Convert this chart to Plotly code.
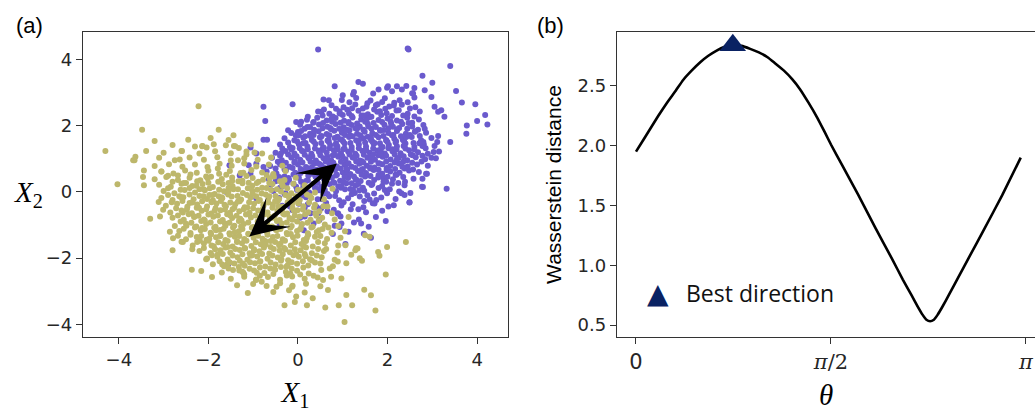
import math
import plotly.graph_objects as go

# ---------------- Panel (a): two point clouds ----------------
purple_points = [
    # outliers / edge points
    (0.45, 4.30), (2.45, 4.33), (2.47, 4.30), (3.40, 3.80), (2.78, 3.51), (3.00, 3.30), (3.53, 3.05),
    (3.66, 2.70), (3.96, 2.65), (4.18, 2.32), (4.23, 2.04), (3.77, 2.01), (3.76, 1.76), (4.00, 2.14),
    (3.40, 1.51), (3.32, 0.10), (3.03, 1.21), (2.88, 0.55), (2.79, 0.15), (2.51, -0.03), (2.49, -0.31),
    (2.14, -0.40), (1.96, -0.88), (1.63, -1.38), (1.47, -1.26), (1.13, -1.20), (0.93, -1.06), (0.13, -1.16),
    (-1.55, -2.17), (-0.77, 2.57), (-0.12, 2.65), (-0.73, 2.14), (-0.77, 1.58), (-0.69, 1.58), (-1.06, 1.34),
    (-0.93, 1.16), (-1.10, 0.81), (-1.30, 0.50), (-1.53, 0.81), (-1.06, 0.55), (1.35, 3.32), (0.82, 3.19),
    (0.57, 2.79), (1.80, 3.09), (1.99, 3.15), (2.21, 3.19), (2.32, 3.09), (1.45, 3.27), (2.01, 3.19),
    (2.42, 3.20), (2.60, 3.14), (2.57, 2.97), (2.83, 3.07), (2.98, 2.87), (3.05, 2.57), (3.20, 2.47),
    (3.27, 2.27), (3.13, 2.42), (1.00, 2.92), (1.23, 2.94), (0.69, 2.77), (0.52, 2.42), (0.22, 2.27),
    (0.07, 2.12), (0.00, 1.81), (3.11, 1.51), (3.13, 1.69), (2.78, 1.39), (2.98, 1.03), (2.86, 0.55),
    (2.78, 0.40), (2.77, 0.16), (2.49, -0.32), (1.41, -0.95), (0.78, -1.27), (1.06, -1.57), (2.31, -0.04),
    (2.38, -0.09), (1.67, -0.34), (1.75, -0.24), (-0.22, 1.86), (-0.04, 2.11), (-0.93, 0.85), (-0.77, 0.75),
    (-1.60, 0.00), (-0.93, -0.19), (-0.41, -0.95), (-0.18, -0.44), (-0.04, 0.16), (0.15, -0.74), (0.45, -0.64),
    (0.89, -0.64), (0.97, -0.95),
    # dense body
    (0.35, -0.95), (0.82, -1.02), (1.25, -0.92), (1.58, -1.05),
    (0.05, -0.78), (0.48, -0.85), (0.95, -0.74), (1.36, -0.83), (1.74, -0.76),
    (-0.12, -0.55), (0.28, -0.64), (0.66, -0.58), (0.90, -0.66), (1.18, -0.52), (1.52, -0.61), (1.88, -0.57),
    (-0.35, -0.42), (0.02, -0.36), (0.41, -0.45), (0.63, -0.33), (0.97, -0.41), (1.22, -0.37), (1.46, -0.46),
    (1.71, -0.35), (2.02, -0.44),
    (-0.42, -0.18), (-0.15, -0.24), (0.18, -0.16), (0.44, -0.22), (0.70, -0.13), (0.92, -0.25), (1.12, -0.19),
    (1.38, -0.14), (1.60, -0.23), (1.86, -0.17), (2.18, -0.21),
    (-0.55, 0.03), (-0.28, -0.04), (-0.02, 0.06), (0.25, -0.02), (0.47, 0.05), (0.66, -0.06), (0.85, 0.02),
    (1.05, 0.08), (1.27, -0.03), (1.48, 0.04), (1.70, -0.05), (1.94, 0.06), (2.26, 0.01),
    (-0.60, 0.22), (-0.36, 0.16), (-0.10, 0.25), (0.12, 0.18), (0.34, 0.24), (0.52, 0.15), (0.71, 0.23),
    (0.90, 0.17), (1.08, 0.26), (1.28, 0.19), (1.45, 0.13), (1.66, 0.24), (1.88, 0.18), (2.10, 0.25), (2.38, 0.20),
    (-0.65, 0.38), (-0.42, 0.45), (-0.20, 0.36), (0.02, 0.43), (0.22, 0.35), (0.40, 0.46), (0.58, 0.39),
    (0.76, 0.44), (0.94, 0.34), (1.12, 0.42), (1.30, 0.37), (1.50, 0.47), (1.70, 0.36), (1.90, 0.43),
    (2.12, 0.38), (2.35, 0.45), (2.58, 0.40),
    (-0.70, 0.62), (-0.48, 0.56), (-0.27, 0.65), (-0.06, 0.58), (0.14, 0.64), (0.31, 0.55), (0.49, 0.63),
    (0.66, 0.57), (0.83, 0.66), (1.00, 0.59), (1.17, 0.54), (1.34, 0.63), (1.52, 0.57), (1.69, 0.66),
    (1.88, 0.55), (2.06, 0.62), (2.27, 0.58), (2.48, 0.65), (2.70, 0.60),
    (-0.62, 0.78), (-0.40, 0.84), (-0.19, 0.76), (0.00, 0.83), (0.18, 0.75), (0.36, 0.85), (0.53, 0.79),
    (0.70, 0.86), (0.87, 0.77), (1.04, 0.82), (1.20, 0.76), (1.37, 0.85), (1.54, 0.79), (1.71, 0.74),
    (1.88, 0.84), (2.06, 0.78), (2.25, 0.86), (2.45, 0.77), (2.66, 0.83), (2.90, 0.79),
    (-0.58, 1.03), (-0.36, 0.96), (-0.15, 1.04), (0.05, 0.97), (0.23, 1.05), (0.40, 0.95), (0.57, 1.02),
    (0.74, 0.96), (0.90, 1.06), (1.06, 0.99), (1.22, 1.04), (1.38, 0.95), (1.55, 1.03), (1.72, 0.97),
    (1.89, 1.06), (2.07, 0.98), (2.25, 1.03), (2.44, 0.96), (2.63, 1.05), (2.84, 0.99), (3.08, 1.02),
    (-0.50, 1.18), (-0.28, 1.24), (-0.08, 1.16), (0.12, 1.23), (0.30, 1.15), (0.47, 1.25), (0.64, 1.19),
    (0.80, 1.26), (0.96, 1.17), (1.12, 1.22), (1.28, 1.15), (1.44, 1.24), (1.60, 1.18), (1.77, 1.25),
    (1.94, 1.16), (2.11, 1.23), (2.29, 1.17), (2.48, 1.26), (2.68, 1.20), (2.90, 1.15), (3.15, 1.22),
    (-0.40, 1.43), (-0.18, 1.36), (0.02, 1.44), (0.21, 1.37), (0.39, 1.45), (0.56, 1.35), (0.72, 1.42),
    (0.88, 1.38), (1.04, 1.46), (1.20, 1.36), (1.36, 1.43), (1.52, 1.37), (1.69, 1.45), (1.86, 1.35),
    (2.03, 1.42), (2.21, 1.38), (2.40, 1.46), (2.60, 1.36), (2.81, 1.43), (3.05, 1.39),
    (-0.30, 1.62), (-0.08, 1.56), (0.12, 1.64), (0.31, 1.57), (0.49, 1.65), (0.66, 1.55), (0.82, 1.63),
    (0.98, 1.58), (1.14, 1.66), (1.30, 1.56), (1.46, 1.62), (1.63, 1.57), (1.80, 1.65), (1.97, 1.55),
    (2.15, 1.61), (2.34, 1.58), (2.54, 1.66), (2.75, 1.56), (2.98, 1.63),
    (-0.15, 1.78), (0.07, 1.84), (0.27, 1.76), (0.46, 1.83), (0.64, 1.75), (0.81, 1.85), (0.98, 1.79),
    (1.15, 1.86), (1.32, 1.76), (1.49, 1.82), (1.66, 1.77), (1.84, 1.85), (2.02, 1.78), (2.21, 1.84),
    (2.41, 1.76), (2.62, 1.83), (2.86, 1.79),
    (0.05, 2.03), (0.27, 1.96), (0.47, 2.04), (0.66, 1.97), (0.84, 2.05), (1.02, 1.95), (1.20, 2.02),
    (1.38, 1.98), (1.56, 2.06), (1.74, 1.96), (1.93, 2.03), (2.12, 1.97), (2.33, 2.05), (2.55, 1.98), (2.80, 2.02),
    (0.20, 2.18), (0.43, 2.24), (0.64, 2.16), (0.84, 2.23), (1.03, 2.15), (1.22, 2.25), (1.41, 2.19),
    (1.60, 2.26), (1.80, 2.17), (2.00, 2.22), (2.21, 2.16), (2.44, 2.24), (2.70, 2.19),
    (0.45, 2.43), (0.70, 2.36), (0.93, 2.44), (1.14, 2.37), (1.35, 2.45), (1.56, 2.35), (1.77, 2.42),
    (1.98, 2.38), (2.20, 2.46), (2.45, 2.36), (2.72, 2.43),
    (0.75, 2.62), (1.02, 2.56), (1.28, 2.64), (1.53, 2.57), (1.78, 2.65), (2.04, 2.58), (2.32, 2.63), (2.62, 2.56),
    (0.98, 2.78), (1.30, 2.84), (1.62, 2.76), (1.94, 2.83), (2.27, 2.77), (2.60, 2.85),
    (1.25, 3.02), (1.68, 2.97), (2.10, 3.04), (2.55, 2.98),
    # second layer of the body
    (0.15, -0.47), (0.80, -0.54), (1.35, -0.52), (0.52, -0.49),
    (-0.30, -0.06), (0.10, -0.11), (0.57, -0.05), (0.83, -0.12), (1.20, -0.07), (1.55, -0.10), (1.99, -0.04),
    (-0.40, 0.13), (0.10, 0.07), (0.38, 0.12), (0.60, 0.06), (0.96, 0.13), (1.17, 0.09), (1.37, 0.05),
    (1.80, 0.12), (2.05, 0.08),
    (-0.50, 0.32), (-0.25, 0.26), (0.07, 0.31), (0.44, 0.27), (0.63, 0.33), (0.81, 0.28), (1.02, 0.30),
    (1.20, 0.26), (1.40, 0.33), (1.58, 0.28), (1.97, 0.31), (2.24, 0.27),
    (-0.55, 0.51), (-0.30, 0.47), (-0.10, 0.53), (0.23, 0.49), (0.45, 0.52), (0.62, 0.47), (0.85, 0.50),
    (1.07, 0.53), (1.25, 0.47), (1.42, 0.52), (1.62, 0.48), (1.80, 0.51), (2.00, 0.46), (2.20, 0.52),
    (-0.50, 0.71), (-0.30, 0.68), (-0.12, 0.72), (0.06, 0.69), (0.24, 0.71), (0.42, 0.67), (0.60, 0.72),
    (0.76, 0.68), (0.95, 0.71), (1.10, 0.67), (1.28, 0.72), (1.45, 0.69), (1.62, 0.71), (1.80, 0.67),
    (1.98, 0.72), (2.17, 0.69), (2.38, 0.71), (2.57, 0.68),
    (-0.45, 0.91), (-0.27, 0.88), (-0.07, 0.92), (0.10, 0.89), (0.28, 0.91), (0.45, 0.87), (0.62, 0.92),
    (0.79, 0.88), (0.96, 0.91), (1.13, 0.87), (1.30, 0.92), (1.46, 0.89), (1.63, 0.91), (1.80, 0.87),
    (1.97, 0.92), (2.16, 0.89), (2.35, 0.91), (2.55, 0.88), (2.76, 0.92),
    (-0.40, 1.09), (-0.22, 1.13), (-0.03, 1.08), (0.15, 1.12), (0.32, 1.08), (0.50, 1.11), (0.66, 1.07),
    (0.83, 1.12), (0.99, 1.08), (1.15, 1.13), (1.31, 1.09), (1.47, 1.12), (1.63, 1.07), (1.80, 1.11),
    (1.97, 1.09), (2.16, 1.13), (2.36, 1.08), (2.56, 1.11), (2.78, 1.09),
    (-0.35, 1.31), (-0.15, 1.28), (0.04, 1.32), (0.22, 1.29), (0.38, 1.31), (0.55, 1.27), (0.71, 1.32),
    (0.88, 1.28), (1.04, 1.31), (1.20, 1.27), (1.36, 1.32), (1.52, 1.29), (1.68, 1.31), (1.85, 1.27),
    (2.02, 1.32), (2.20, 1.29), (2.40, 1.31), (2.60, 1.28), (2.85, 1.32),
    (-0.22, 1.49), (-0.02, 1.53), (0.17, 1.48), (0.35, 1.52), (0.52, 1.48), (0.69, 1.51), (0.85, 1.47),
    (1.01, 1.52), (1.17, 1.48), (1.33, 1.53), (1.50, 1.49), (1.66, 1.52), (1.83, 1.47), (2.00, 1.51),
    (2.18, 1.49), (2.37, 1.53), (2.58, 1.48), (2.80, 1.51),
    (-0.05, 1.71), (0.16, 1.68), (0.35, 1.72), (0.53, 1.69), (0.70, 1.71), (0.88, 1.67), (1.05, 1.72),
    (1.22, 1.68), (1.39, 1.71), (1.56, 1.67), (1.74, 1.72), (1.91, 1.69), (2.10, 1.71), (2.30, 1.68),
    (2.50, 1.72), (2.72, 1.69),
    (0.15, 1.91), (0.36, 1.88), (0.55, 1.92), (0.74, 1.89), (0.92, 1.91), (1.10, 1.87), (1.28, 1.92),
    (1.46, 1.88), (1.64, 1.91), (1.83, 1.87), (2.02, 1.92), (2.22, 1.89), (2.44, 1.91), (2.68, 1.88),
    (0.35, 2.11), (0.56, 2.08), (0.76, 2.12), (0.95, 2.09), (1.13, 2.11), (1.32, 2.07), (1.50, 2.12),
    (1.69, 2.08), (1.88, 2.11), (2.08, 2.07), (2.30, 2.12), (2.55, 2.09),
    (0.55, 2.31), (0.78, 2.28), (1.00, 2.32), (1.20, 2.29), (1.42, 2.31), (1.64, 2.27), (1.86, 2.32),
    (2.10, 2.29), (2.35, 2.31), (2.60, 2.28),
    (0.85, 2.51), (1.10, 2.48), (1.45, 2.52), (1.70, 2.49), (1.95, 2.51), (2.25, 2.47), (2.50, 2.52),
    (1.15, 2.71), (1.55, 2.68), (1.88, 2.72), (2.15, 2.69), (2.45, 2.71),
    # third, irregular layer of the core
    (0.31, 0.74), (0.58, 1.33), (0.87, 0.52), (1.16, 1.71), (1.43, 0.93), (1.71, 1.48), (1.98, 0.66),
    (0.12, 1.47), (0.43, 0.09), (0.72, 1.93), (1.01, 1.29), (1.29, 0.38), (1.57, 1.98), (1.84, 1.15),
    (2.13, 1.72), (0.24, 1.02), (0.51, 1.66), (0.79, 0.29), (1.08, 0.71), (1.36, 1.55), (1.64, 0.21),
    (1.92, 1.87), (2.21, 0.99), (0.06, 0.57), (0.37, 1.83), (0.66, 0.99), (0.94, 1.59), (1.23, 0.06),
    (1.51, 1.26), (1.79, 0.44), (2.07, 2.13), (2.36, 1.39), (0.18, 0.33), (0.47, 1.21), (0.75, 2.21),
    (1.04, 0.45), (1.33, 1.92), (1.61, 0.73), (1.89, 1.36), (2.18, 0.52), (0.28, 1.69), (0.56, 0.61),
    (0.85, 1.41), (1.13, 2.07), (1.41, 0.66), (1.69, 1.14), (1.97, 1.57), (2.26, 1.93), (0.09, 1.24),
    (0.39, 0.47), (0.68, 1.58), (0.97, 0.17), (1.26, 1.03), (1.54, 2.21), (1.82, 0.86), (2.11, 1.29),
    (2.42, 1.66), (0.21, 1.96), (0.49, 0.84), (0.78, 1.11), (1.07, 1.88), (1.35, 0.24), (1.63, 1.63),
    (1.91, 0.31), (2.19, 1.53), (-0.08, 0.89), (-0.21, 0.42), (-0.12, 1.33), (0.02, 1.71), (2.52, 1.13),
    (2.61, 1.82), (2.33, 0.76), (2.47, 2.08), (0.58, 2.49), (1.21, 2.53), (1.83, 2.44), (2.14, 2.61),
    (0.93, 2.37), (1.47, 2.31), (2.71, 1.47), (2.39, 0.31), (0.55, -0.22), (1.02, -0.31), (1.48, -0.27),
    (0.22, -0.37), (-0.28, 0.68), (-0.38, 1.16), (0.34, 2.09), (1.74, 2.62), (2.83, 1.91),
]

yellow_points = [
    # outliers / edge points
    (-4.30, 1.24), (-4.03, 0.23), (-3.48, 1.88), (-3.63, 1.06), (-3.65, 0.96), (-3.39, 1.24), (-3.20, 1.54),
    (-2.22, 2.59), (-1.77, 1.88), (-1.44, 1.71), (-2.14, 1.38), (-2.59, 1.24), (-3.44, 0.65), (-3.44, 0.20),
    (-3.46, 0.45), (-3.05, 0.62), (-3.30, -0.81), (-3.11, -0.30), (-3.01, -0.54), (-3.08, -0.74), (-2.86, -1.20),
    (-2.80, -1.76), (-2.57, -1.51), (-2.60, -1.50), (-2.79, -1.40), (-2.37, -2.35), (-2.16, -2.39), (-1.92, -2.57),
    (-1.36, -2.82), (-1.12, -3.05), (-0.30, -3.42), (-0.07, -3.32), (0.20, -3.42), (0.61, -3.49), (0.91, -3.42),
    (1.04, -3.93), (1.21, -3.42), (1.48, -2.95), (1.63, -3.12), (1.73, -3.58), (1.96, -2.49), (1.99, -1.66),
    (2.41, -1.51), (1.79, -1.81), (1.50, -1.31), (1.33, -1.71), (1.06, -1.61), (0.77, 0.10), (0.57, -0.43),
    (1.13, -0.76), (1.28, -1.76), (1.43, -2.08), (1.30, -1.70), (1.38, -2.00), (1.19, -1.90), (1.08, -3.11),
    (0.67, -2.96), (0.33, -3.21), (0.74, -2.56), (0.97, -2.61), (0.89, -2.10), (1.08, -2.15), (0.56, -2.66),
    (1.82, -1.93), (1.60, -1.35), (-1.58, -2.18), (-1.24, -2.41), (-0.94, -2.66), (-0.48, -2.86), (-0.13, -2.86),
    (-0.04, -3.16), (-1.15, 1.13), (-0.97, 1.19), (-1.34, 0.96), (-2.64, 0.98), (-2.68, 0.50), (-1.32, 1.33),
    (-1.61, 1.41), (-1.43, 1.39), (-2.04, 1.34), (-2.13, 1.39), (-3.68, 0.96),
    # dense body
    (-2.45, 1.58), (-1.95, 1.63), (-1.55, 1.57),
    (-2.80, 1.42), (-2.30, 1.37), (-1.88, 1.44), (-1.40, 1.38), (-1.05, 1.43),
    (-3.00, 1.18), (-2.60, 1.24), (-2.20, 1.16), (-1.85, 1.23), (-1.50, 1.17), (-1.15, 1.22), (-0.80, 1.16),
    (-3.10, 1.03), (-2.75, 0.96), (-2.42, 1.04), (-2.10, 0.97), (-1.80, 1.05), (-1.50, 0.95), (-1.20, 1.02),
    (-0.90, 0.97), (-0.60, 1.04),
    (-3.20, 0.78), (-2.88, 0.84), (-2.58, 0.76), (-2.30, 0.83), (-2.02, 0.75), (-1.75, 0.85), (-1.48, 0.79),
    (-1.20, 0.86), (-0.93, 0.77), (-0.65, 0.83), (-0.35, 0.79),
    (-3.05, 0.62), (-2.78, 0.56), (-2.52, 0.65), (-2.26, 0.58), (-2.00, 0.64), (-1.76, 0.55), (-1.52, 0.63),
    (-1.28, 0.57), (-1.04, 0.66), (-0.80, 0.59), (-0.55, 0.54), (-0.28, 0.63),
    (-3.20, 0.38), (-2.94, 0.45), (-2.68, 0.36), (-2.42, 0.43), (-2.18, 0.35), (-1.94, 0.46), (-1.70, 0.39),
    (-1.47, 0.44), (-1.24, 0.34), (-1.01, 0.42), (-0.78, 0.37), (-0.54, 0.47), (-0.30, 0.36), (-0.05, 0.43),
    (-3.10, 0.22), (-2.84, 0.16), (-2.60, 0.25), (-2.36, 0.18), (-2.13, 0.24), (-1.90, 0.15), (-1.68, 0.23),
    (-1.46, 0.17), (-1.24, 0.26), (-1.02, 0.19), (-0.80, 0.13), (-0.57, 0.24), (-0.34, 0.18), (-0.10, 0.25),
    (0.15, 0.20),
    (-3.00, 0.03), (-2.76, -0.04), (-2.53, 0.06), (-2.30, -0.02), (-2.08, 0.05), (-1.86, -0.06), (-1.65, 0.02),
    (-1.44, 0.08), (-1.23, -0.03), (-1.02, 0.04), (-0.81, -0.05), (-0.60, 0.06), (-0.38, 0.01), (-0.15, -0.04),
    (0.10, 0.05), (0.38, -0.02),
    (-3.05, -0.18), (-2.80, -0.24), (-2.56, -0.16), (-2.33, -0.22), (-2.11, -0.13), (-1.90, -0.25), (-1.69, -0.19),
    (-1.48, -0.14), (-1.27, -0.23), (-1.06, -0.17), (-0.85, -0.24), (-0.64, -0.13), (-0.42, -0.21), (-0.20, -0.16),
    (0.04, -0.24), (0.30, -0.18), (0.58, -0.22),
    (-2.95, -0.42), (-2.70, -0.36), (-2.47, -0.45), (-2.25, -0.38), (-2.03, -0.44), (-1.82, -0.35), (-1.61, -0.43),
    (-1.40, -0.37), (-1.19, -0.46), (-0.98, -0.36), (-0.77, -0.42), (-0.56, -0.38), (-0.34, -0.45), (-0.12, -0.35),
    (0.12, -0.43), (0.38, -0.39), (0.66, -0.44),
    (-2.85, -0.62), (-2.60, -0.56), (-2.37, -0.64), (-2.15, -0.57), (-1.94, -0.65), (-1.73, -0.55), (-1.52, -0.63),
    (-1.31, -0.58), (-1.10, -0.66), (-0.89, -0.56), (-0.68, -0.62), (-0.46, -0.57), (-0.24, -0.65), (-0.01, -0.55),
    (0.23, -0.61), (0.48, -0.58), (0.76, -0.64),
    (-2.80, -0.78), (-2.55, -0.84), (-2.32, -0.76), (-2.10, -0.83), (-1.89, -0.75), (-1.68, -0.85), (-1.47, -0.79),
    (-1.26, -0.86), (-1.05, -0.77), (-0.84, -0.82), (-0.63, -0.76), (-0.41, -0.85), (-0.19, -0.79), (0.04, -0.74),
    (0.28, -0.84), (0.54, -0.78), (0.82, -0.83),
    (-2.75, -1.03), (-2.50, -0.96), (-2.27, -1.04), (-2.05, -0.97), (-1.84, -1.05), (-1.63, -0.95), (-1.42, -1.02),
    (-1.21, -0.97), (-1.00, -1.06), (-0.79, -0.99), (-0.58, -1.04), (-0.36, -0.95), (-0.14, -1.03), (0.09, -0.97),
    (0.33, -1.05), (0.60, -0.98), (0.90, -1.03),
    (-2.65, -1.18), (-2.40, -1.24), (-2.17, -1.16), (-1.95, -1.23), (-1.74, -1.15), (-1.53, -1.25), (-1.32, -1.19),
    (-1.11, -1.26), (-0.90, -1.17), (-0.69, -1.22), (-0.47, -1.15), (-0.25, -1.24), (-0.02, -1.18), (0.22, -1.25),
    (0.47, -1.16), (0.75, -1.23), (1.05, -1.19),
    (-2.50, -1.43), (-2.26, -1.36), (-2.04, -1.44), (-1.83, -1.37), (-1.62, -1.45), (-1.41, -1.35), (-1.20, -1.42),
    (-0.99, -1.38), (-0.78, -1.46), (-0.56, -1.36), (-0.34, -1.43), (-0.11, -1.37), (0.13, -1.45), (0.38, -1.35),
    (0.65, -1.42), (0.95, -1.38),
    (-2.35, -1.62), (-2.10, -1.56), (-1.88, -1.64), (-1.67, -1.57), (-1.46, -1.65), (-1.25, -1.55), (-1.04, -1.63),
    (-0.83, -1.58), (-0.61, -1.66), (-0.39, -1.56), (-0.16, -1.62), (0.08, -1.57), (0.33, -1.65), (0.60, -1.55),
    (0.90, -1.62),
    (-2.20, -1.78), (-1.95, -1.84), (-1.73, -1.76), (-1.51, -1.83), (-1.30, -1.75), (-1.08, -1.85), (-0.86, -1.79),
    (-0.64, -1.86), (-0.41, -1.77), (-0.18, -1.82), (0.06, -1.76), (0.31, -1.85), (0.58, -1.78), (0.88, -1.83),
    (-2.05, -2.03), (-1.80, -1.96), (-1.57, -2.04), (-1.35, -1.97), (-1.13, -2.05), (-0.91, -1.95), (-0.68, -2.02),
    (-0.45, -1.98), (-0.22, -2.06), (0.02, -1.96), (0.27, -2.03), (0.53, -1.97), (0.82, -2.05),
    (-1.90, -2.18), (-1.65, -2.24), (-1.42, -2.16), (-1.19, -2.23), (-0.96, -2.15), (-0.73, -2.25), (-0.50, -2.19),
    (-0.26, -2.26), (-0.02, -2.17), (0.23, -2.22), (0.50, -2.16), (0.78, -2.24),
    (-1.70, -2.43), (-1.45, -2.36), (-1.22, -2.44), (-0.98, -2.37), (-0.75, -2.45), (-0.51, -2.35), (-0.27, -2.42),
    (-0.02, -2.38), (0.24, -2.46), (0.52, -2.36),
    (-1.50, -2.62), (-1.20, -2.56), (-0.93, -2.64), (-0.67, -2.57), (-0.40, -2.65), (-0.13, -2.55), (0.15, -2.62),
    (0.44, -2.58),
    (-1.00, -2.78), (-0.70, -2.84), (-0.40, -2.76), (-0.12, -2.83), (0.18, -2.77), (0.50, -2.85),
    (-0.55, -3.02), (-0.20, -2.97), (0.15, -3.04),
    # second layer of the body
    (-2.90, 0.49), (-2.40, 0.53), (-2.05, 0.47), (-1.60, 0.52), (-1.15, 0.48), (-0.70, 0.51),
    (-2.80, 0.31), (-2.50, 0.27), (-2.25, 0.32), (-2.00, 0.28), (-1.78, 0.31), (-1.55, 0.27), (-1.33, 0.32),
    (-1.10, 0.28), (-0.88, 0.31), (-0.64, 0.27), (-0.40, 0.32),
    (-2.90, 0.11), (-2.62, 0.07), (-2.42, 0.12), (-2.20, 0.08), (-1.97, 0.11), (-1.76, 0.07), (-1.55, 0.12),
    (-1.34, 0.08), (-1.12, 0.11), (-0.91, 0.07), (-0.70, 0.12), (-0.47, 0.08), (-0.24, 0.11), (0.00, 0.07),
    (-2.90, -0.09), (-2.65, -0.13), (-2.42, -0.08), (-2.20, -0.12), (-1.98, -0.09), (-1.77, -0.13), (-1.56, -0.08),
    (-1.35, -0.12), (-1.14, -0.09), (-0.93, -0.13), (-0.72, -0.08), (-0.50, -0.12), (-0.28, -0.09), (-0.05, -0.13),
    (0.20, -0.08),
    (-2.82, -0.31), (-2.58, -0.27), (-2.36, -0.32), (-2.14, -0.28), (-1.93, -0.31), (-1.72, -0.27), (-1.51, -0.32),
    (-1.30, -0.28), (-1.09, -0.31), (-0.88, -0.27), (-0.66, -0.32), (-0.45, -0.28), (-0.23, -0.31), (0.00, -0.27),
    (0.25, -0.32),
    (-2.72, -0.49), (-2.48, -0.53), (-2.26, -0.48), (-2.05, -0.52), (-1.84, -0.49), (-1.63, -0.53), (-1.42, -0.48),
    (-1.21, -0.52), (-1.00, -0.49), (-0.79, -0.53), (-0.57, -0.48), (-0.35, -0.52), (-0.12, -0.49), (0.11, -0.53),
    (0.36, -0.48),
    (-2.68, -0.71), (-2.44, -0.67), (-2.22, -0.72), (-2.00, -0.68), (-1.79, -0.71), (-1.58, -0.67), (-1.37, -0.72),
    (-1.16, -0.68), (-0.95, -0.71), (-0.74, -0.67), (-0.52, -0.72), (-0.30, -0.68), (-0.07, -0.71), (0.16, -0.67),
    (0.41, -0.72),
    (-2.62, -0.89), (-2.38, -0.93), (-2.16, -0.88), (-1.95, -0.92), (-1.74, -0.89), (-1.53, -0.93), (-1.32, -0.88),
    (-1.11, -0.92), (-0.90, -0.89), (-0.69, -0.93), (-0.47, -0.88), (-0.25, -0.92), (-0.02, -0.89), (0.21, -0.93),
    (0.46, -0.88),
    (-2.55, -1.11), (-2.30, -1.07), (-2.08, -1.12), (-1.87, -1.08), (-1.66, -1.11), (-1.45, -1.07), (-1.24, -1.12),
    (-1.03, -1.08), (-0.82, -1.11), (-0.61, -1.07), (-0.39, -1.12), (-0.17, -1.08), (0.06, -1.11), (0.30, -1.07),
    (0.55, -1.12),
    (-2.40, -1.29), (-2.16, -1.33), (-1.94, -1.28), (-1.73, -1.32), (-1.52, -1.29), (-1.31, -1.33), (-1.10, -1.28),
    (-0.89, -1.32), (-0.68, -1.29), (-0.46, -1.33), (-0.24, -1.28), (-0.01, -1.32), (0.23, -1.29), (0.50, -1.33),
    (-2.25, -1.51), (-2.00, -1.47), (-1.78, -1.52), (-1.57, -1.48), (-1.36, -1.51), (-1.15, -1.47), (-0.94, -1.52),
    (-0.73, -1.48), (-0.51, -1.51), (-0.29, -1.47), (-0.06, -1.52), (0.18, -1.48), (0.45, -1.51),
    (-2.10, -1.69), (-1.85, -1.73), (-1.62, -1.68), (-1.40, -1.72), (-1.19, -1.69), (-0.98, -1.73), (-0.76, -1.68),
    (-0.54, -1.72), (-0.31, -1.69), (-0.07, -1.73), (0.18, -1.68), (0.45, -1.72),
    (-1.92, -1.91), (-1.68, -1.87), (-1.46, -1.92), (-1.24, -1.88), (-1.02, -1.91), (-0.80, -1.87), (-0.57, -1.92),
    (-0.34, -1.88), (-0.10, -1.91), (0.15, -1.87), (0.42, -1.92),
    (-1.75, -2.09), (-1.52, -2.13), (-1.30, -2.08), (-1.07, -2.12), (-0.84, -2.09), (-0.61, -2.13), (-0.38, -2.08),
    (-0.14, -2.12), (0.11, -2.09), (0.38, -2.13),
    (-1.55, -2.31), (-1.32, -2.27), (-1.08, -2.32), (-0.85, -2.28), (-0.62, -2.31), (-0.38, -2.27), (-0.14, -2.32),
    (0.12, -2.28),
    (-1.20, -2.49), (-0.85, -2.53), (-0.55, -2.48), (-0.25, -2.52), (0.05, -2.49), (0.35, -2.53),
    # third, irregular layer of the core
    (-2.31, -0.74), (-2.03, -0.21), (-1.74, -1.33), (-1.46, -0.52), (-1.18, -1.71), (-0.89, -0.93), (-0.61, -1.48),
    (-0.33, -0.66), (-0.04, -1.87), (-2.19, -1.47), (-1.91, -0.09), (-1.62, -1.02), (-1.34, -0.29), (-1.06, -1.93),
    (-0.77, -0.38), (-0.49, -1.15), (-0.21, -0.12), (0.08, -0.99), (-2.42, -0.33), (-2.14, -1.09), (-1.86, -0.57),
    (-1.57, -1.66), (-1.29, -0.81), (-1.01, -0.05), (-0.72, -1.59), (-0.44, -0.44), (-0.16, -1.27), (0.13, -1.63),
    (-2.27, 0.19), (-1.98, -1.41), (-1.70, -0.16), (-1.41, -1.22), (-1.13, -0.47), (-0.85, -2.11), (-0.56, -0.78),
    (-0.28, -1.74), (0.01, -0.34), (-2.36, -1.73), (-2.08, -0.86), (-1.79, -1.88), (-1.51, -0.71), (-1.23, -2.16),
    (-0.94, -1.19), (-0.66, -0.18), (-0.37, -2.03), (-0.09, -0.57), (0.20, -1.38), (-2.49, -1.02), (-2.21, -0.48),
    (-1.93, -1.62), (-1.64, -0.39), (-1.36, -1.49), (-1.08, -0.63), (-0.79, -1.41), (-0.51, -0.27), (-0.23, -2.21),
    (0.05, -1.13), (-2.11, 0.08), (-1.83, -1.16), (-1.55, 0.03), (-1.27, -1.04), (-0.98, -1.77), (-0.70, -0.97),
    (-0.42, -1.61), (-0.13, -0.84), (0.17, -1.94), (-2.57, -0.62), (-2.62, -0.15), (-2.68, -1.32), (-2.03, -2.01),
    (-1.69, -2.19), (-1.31, -2.37), (-0.92, -2.44), (-0.53, -2.33), (-0.17, -2.47), (0.31, -2.07), (0.42, -1.21),
    (0.39, -0.64), (0.27, -0.12), (-0.35, 0.22), (-0.92, 0.27), (-1.47, 0.33), (-2.02, 0.41), (-2.55, 0.27),
    (-1.22, 0.58), (-1.79, 0.71), (-0.63, 0.41), (0.63, -1.72), (0.71, -2.31), (0.68, -1.07), (-0.81, -2.71),
]

purple_x1 = [p[0] for p in purple_points]
purple_x2 = [p[1] for p in purple_points]
yellow_x1 = [p[0] for p in yellow_points]
yellow_x2 = [p[1] for p in yellow_points]

arrow_tail = [-1.12, -1.38]
arrow_tip = [0.87, 0.86]

ticks_a = [-4, -2, 0, 2, 4]
ticks_a_text = ["\u22124", "\u22122", "0", "2", "4"]

# ---------------- Panel (b): Wasserstein distance vs projection angle ----------------
theta = [0.00, 0.06, 0.12, 0.18, 0.25, 0.32, 0.38, 0.45, 0.52, 0.58, 0.65, 0.71, 0.78, 0.85,
         0.92, 0.99, 1.06, 1.12, 1.19, 1.26, 1.32, 1.39, 1.46, 1.52, 1.571, 1.66, 1.79, 1.93,
         2.06, 2.15, 2.22, 2.27, 2.31, 2.34, 2.37, 2.40, 2.43, 2.47, 2.52, 2.60, 2.68, 2.81,
         2.95, 3.10]
wasserstein = [1.95, 2.05, 2.15, 2.25, 2.36, 2.46, 2.55, 2.63, 2.70, 2.75, 2.795, 2.825, 2.84, 2.835,
               2.81, 2.78, 2.74, 2.69, 2.63, 2.555, 2.475, 2.36, 2.235, 2.115, 2.01, 1.84, 1.59, 1.31,
               1.06, 0.88, 0.75, 0.655, 0.585, 0.545, 0.532, 0.545, 0.585, 0.655, 0.75, 0.905, 1.06, 1.31,
               1.585, 1.90]
best_theta = [0.78]
best_w = [2.84]

ticks_b_x = [0, math.pi / 2, math.pi]
ticks_b_x_text = ["<span style='font-family:DejaVu Sans'>0</span>", "<i>\u03c0</i>/2", "<i>\u03c0</i>"]
ticks_b_y = [0.5, 1.0, 1.5, 2.0, 2.5]

W, H = 1035, 416
PURPLE = "#6a5acd"
KHAKI = "#bdb76b"
NAVY = "#0a2263"
AXC = "#333333"
TICKFONT = dict(family="DejaVu Sans", size=18, color="#262626")

fig = go.Figure()
fig.add_trace(go.Scatter(x=purple_x1, y=purple_x2, mode="markers", xaxis="x", yaxis="y",
                         marker=dict(color=PURPLE, size=6, line=dict(width=0)),
                         showlegend=False, hoverinfo="skip"))
fig.add_trace(go.Scatter(x=yellow_x1, y=yellow_x2, mode="markers", xaxis="x", yaxis="y",
                         marker=dict(color=KHAKI, size=6, line=dict(width=0)),
                         showlegend=False, hoverinfo="skip"))
fig.add_trace(go.Scatter(x=theta, y=wasserstein, mode="lines", xaxis="x2", yaxis="y2",
                         line=dict(color="black", width=2.6, shape="spline", smoothing=0.4),
                         showlegend=False, hoverinfo="skip"))
fig.add_trace(go.Scatter(x=best_theta, y=best_w, mode="markers", xaxis="x2", yaxis="y2",
                         name="Best direction", cliponaxis=False,
                         marker=dict(symbol="triangle-up", size=23, color=NAVY, line=dict(width=0)),
                         showlegend=False, hoverinfo="skip"))

common_axis = dict(showline=True, linecolor=AXC, linewidth=1.3, ticks="outside", ticklen=6,
                   tickwidth=1.2, tickcolor=AXC, showgrid=False, zeroline=False,
                   automargin=False)

fig.update_layout(
    width=W, height=H,
    margin=dict(l=0, r=0, t=0, b=0, autoexpand=False),
    paper_bgcolor="white", plot_bgcolor="white",
    xaxis=dict(domain=[83 / W, 508 / W], range=[-4.80, 4.69], anchor="y", mirror=True,
               tickvals=ticks_a, ticktext=ticks_a_text, tickfont=TICKFONT,
               title=dict(text="<i>X</i><sub>1</sub>", standoff=12,
                          font=dict(family="Liberation Serif", size=29, color="black")),
               **common_axis),
    yaxis=dict(domain=[1 - 337 / H, 1 - 32 / H], range=[-4.38, 4.83], anchor="x", mirror=True,
               tickvals=ticks_a, ticktext=ticks_a_text, tickfont=TICKFONT, **common_axis),
    xaxis2=dict(domain=[617 / W, 1.0], range=[-0.153, 3.215], anchor="y2", mirror=True,
                tickvals=ticks_b_x, ticktext=ticks_b_x_text,
                tickfont=dict(family="DejaVu Serif", size=21, color="#262626"),
                title=dict(text="<i>\u03b8</i>", standoff=11,
                           font=dict(family="Liberation Serif", size=29, color="black")),
                **common_axis),
    yaxis2=dict(domain=[1 - 337 / H, 1 - 32 / H], range=[0.40, 2.951], anchor="x2", mirror=False,
                tickvals=ticks_b_y, tickformat=".1f", tickfont=TICKFONT,
                title=dict(text="Wasserstein distance", standoff=10,
                           font=dict(family="Liberation Sans", size=21, color="black")),
                **common_axis),
    annotations=[
        dict(text="(a)", x=14 / W, y=1 - 25 / H, xref="paper", yref="paper", xanchor="left",
             yanchor="middle", showarrow=False, font=dict(family="Liberation Sans", size=22, color="black")),
        dict(text="(b)", x=535 / W, y=1 - 25 / H, xref="paper", yref="paper", xanchor="left",
             yanchor="middle", showarrow=False, font=dict(family="Liberation Sans", size=22, color="black")),
        dict(text="<i>X</i><sub>2</sub>", x=28 / W, y=1 - 194 / H, xref="paper", yref="paper",
             xanchor="center", yanchor="middle", showarrow=False,
             font=dict(family="Liberation Serif", size=29, color="black")),
        dict(text="", x=arrow_tip[0], y=arrow_tip[1], ax=arrow_tail[0], ay=arrow_tail[1],
             xref="x", yref="y", axref="x", ayref="y", showarrow=True,
             arrowhead=3, startarrowhead=3, arrowside="end+start",
             arrowsize=1.5, startarrowsize=1.5, arrowwidth=4.2, arrowcolor="black",
             standoff=0, startstandoff=0),
        dict(text="\u25b2", x=658 / W, y=1 - 293 / H, xref="paper", yref="paper",
             xanchor="center", yanchor="middle", showarrow=False,
             font=dict(family="DejaVu Sans", size=28, color=NAVY)),
        dict(text="Best direction", x=684 / W, y=1 - 293 / H, xref="paper", yref="paper",
             xanchor="left", yanchor="middle", showarrow=False,
             font=dict(family="Open Sans", size=23, color="#111111")),
    ],
)

fig.write_html("out.html", config={"displayModeBar": False},
               post_script="document.body.style.margin='0';")
